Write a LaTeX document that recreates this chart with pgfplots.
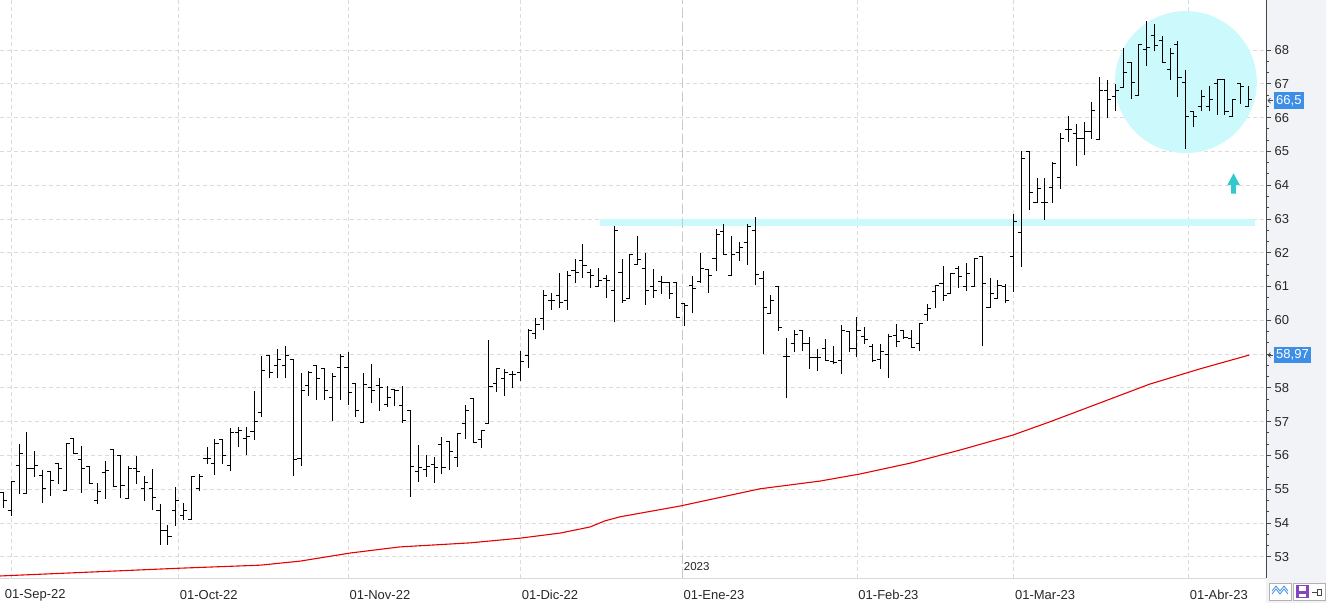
\documentclass[border=0pt]{standalone}
\usepackage{pgfplots}
\pgfplotsset{compat=1.18}
\usepackage{pgfplotstable}
\usepackage{fontspec}
\setmainfont{Liberation Sans}
\definecolor{gridc}{RGB}{218,218,218}
\definecolor{janc}{RGB}{200,200,200}
\definecolor{cyanband}{RGB}{204,250,252}
\definecolor{panel}{RGB}{242,243,247}
\definecolor{lblblue}{RGB}{61,142,230}
\definecolor{arrowc}{RGB}{51,200,204}
\definecolor{axisc}{RGB}{70,70,70}
\definecolor{txt}{RGB}{40,40,40}
\definecolor{maline}{RGB}{230,0,0}
\definecolor{purp}{RGB}{130,70,190}

\pgfdeclareplotmark{openL}{\pgfpathmoveto{\pgfqpoint{-3.6pt}{0pt}}\pgfpathlineto{\pgfqpoint{0.5pt}{0pt}}\pgfusepathqstroke}
\pgfdeclareplotmark{closeR}{\pgfpathmoveto{\pgfqpoint{-0.5pt}{0pt}}\pgfpathlineto{\pgfqpoint{3.6pt}{0pt}}\pgfusepathqstroke}

\pgfplotstableread{
i O H L C
0 54.90 54.92 54.45 54.67
1 54.38 55.22 54.20 55.22
2 55.71 56.34 54.87 56.06
3 54.87 56.68 54.87 55.61
4 55.61 56.13 55.37 55.71
5 55.39 55.56 54.59 55.02
6 55.53 55.53 54.80 55.26
7 55.76 55.76 55.16 55.61
8 54.96 56.36 54.96 56.36
9 56.50 56.50 56.05 56.05
10 55.88 56.28 54.89 55.61
11 55.68 55.68 55.17 55.17
12 54.66 55.18 54.56 54.92
13 55.49 55.83 54.71 55.55
14 56.18 56.18 55.05 55.09
15 55.99 55.99 54.73 55.10
16 54.72 55.69 54.72 55.61
17 55.61 55.97 55.16 55.52
18 55.01 55.40 54.65 55.21
19 55.01 55.61 54.37 54.74
20 54.36 54.57 53.35 53.77
21 53.77 53.93 53.35 53.59
22 54.36 55.05 53.91 54.66
23 54.21 54.58 54.08 54.36
24 54.09 55.37 54.09 55.37
25 55.01 55.46 54.94 55.37
26 55.91 56.26 55.73 55.91
27 55.75 56.48 55.43 56.34
28 56.47 56.47 55.73 56.01
29 55.69 56.81 55.53 56.67
30 56.67 56.83 56.24 56.75
31 56.49 56.84 56.01 56.56
32 56.70 57.92 56.46 57.00
33 57.27 58.95 57.13 58.51
34 58.95 58.95 58.28 58.44
35 58.66 59.15 58.28 58.85
36 58.66 59.25 58.28 58.95
37 58.85 58.85 55.38 55.88
38 55.90 58.44 55.68 57.91
39 58.06 58.49 57.75 58.44
40 58.66 58.66 57.64 58.29
41 58.58 58.58 57.63 57.91
42 57.70 58.44 57.03 58.34
43 58.60 59.00 57.63 58.93
44 58.60 59.07 57.48 57.85
45 58.14 58.14 57.13 57.34
46 56.96 58.44 56.96 58.11
47 58.00 58.71 57.54 57.91
48 58.06 58.30 57.31 58.00
49 57.50 58.06 57.44 57.70
50 57.96 57.96 57.45 57.91
51 57.49 58.06 56.97 57.04
52 57.34 57.34 54.76 55.68
53 55.52 56.31 55.22 55.65
54 55.58 56.01 55.36 55.68
55 55.73 55.95 55.19 55.65
56 56.33 56.54 55.44 55.65
57 56.40 56.40 55.57 56.10
58 55.95 56.65 55.66 56.65
59 56.95 57.50 56.47 57.32
60 57.69 57.69 56.38 56.38
61 56.48 56.74 56.23 56.74
62 56.95 59.42 56.95 58.05
63 58.14 58.58 57.89 58.58
64 58.29 58.55 57.77 58.45
65 58.40 58.50 57.98 58.40
66 58.44 59.10 58.21 58.77
67 58.95 59.75 58.60 59.70
68 59.60 60.06 59.45 59.88
69 60.06 60.90 59.70 60.74
70 60.59 60.80 60.30 60.59
71 60.74 61.41 60.35 60.54
72 60.59 61.47 60.30 61.31
73 61.46 61.81 61.09 61.41
74 61.76 62.26 61.24 61.61
75 61.41 61.53 60.94 61.31
76 61.01 61.55 61.01 61.19
77 61.24 61.34 60.67 61.19
78 60.87 62.80 59.94 62.65
79 61.41 61.81 60.52 60.59
80 60.65 61.96 60.65 61.96
81 61.66 62.50 61.66 61.81
82 61.54 62.00 60.45 60.89
83 61.00 61.51 60.67 60.89
84 61.16 61.31 60.79 61.11
85 61.11 61.11 60.64 60.80
86 61.11 61.11 60.09 60.09
87 60.50 60.50 59.84 60.45
88 61.04 61.31 60.20 60.95
89 61.16 62.00 61.09 61.54
90 61.51 61.51 60.80 61.31
91 61.84 62.70 61.45 62.55
92 62.63 62.85 61.96 61.96
93 61.31 62.48 61.31 61.96
94 62.00 62.31 61.75 62.15
95 62.31 62.85 61.65 62.77
96 62.65 63.07 61.03 61.35
97 61.25 61.46 58.99 60.39
98 60.21 60.74 60.21 60.59
99 61.00 61.00 59.69 59.79
100 58.94 59.46 57.69 58.94
101 59.30 59.71 59.05 59.59
102 59.71 59.71 59.08 59.30
103 59.30 59.50 58.57 58.91
104 58.91 59.15 58.49 58.91
105 59.15 59.45 58.78 58.80
106 58.78 59.24 58.70 58.75
107 58.80 59.86 58.41 59.71
108 59.66 59.66 59.05 59.15
109 59.15 60.09 58.90 59.71
110 59.51 59.81 59.30 59.42
111 59.22 59.30 58.75 58.80
112 58.85 59.30 58.57 59.07
113 59.00 59.59 58.29 59.51
114 59.56 59.89 59.20 59.37
115 59.71 59.71 59.45 59.50
116 59.45 59.71 59.20 59.20
117 59.30 59.92 59.08 59.89
118 60.16 60.47 59.99 60.34
119 60.86 61.04 60.37 61.03
120 61.10 61.60 60.58 60.74
121 60.79 61.39 60.79 61.39
122 61.52 61.60 60.94 61.29
123 61.00 61.68 60.88 61.39
124 61.01 61.84 61.01 61.84
125 61.88 61.88 59.23 61.10
126 60.39 61.26 60.39 60.79
127 60.64 61.18 60.64 61.04
128 61.00 61.08 60.50 60.58
129 61.88 63.14 60.84 62.91
130 62.61 65.00 61.57 64.80
131 65.00 65.00 63.26 63.78
132 63.50 64.21 63.50 63.91
133 63.50 64.20 62.98 63.50
134 63.93 64.69 63.48 64.65
135 64.23 65.53 63.89 65.39
136 65.65 66.05 65.29 65.65
137 65.53 65.80 64.58 65.39
138 65.39 65.87 64.88 65.60
139 65.60 66.47 65.36 66.20
140 65.36 67.20 65.36 66.81
141 66.81 67.11 66.00 66.54
142 66.61 66.99 66.20 66.81
143 66.90 68.06 66.90 67.32
144 67.63 67.63 66.54 67.04
145 66.66 68.15 66.66 68.15
146 68.00 68.86 67.53 68.06
147 68.43 68.77 67.96 68.13
148 68.28 68.40 67.62 67.64
149 67.42 68.06 67.11 67.91
150 68.15 68.28 66.60 67.20
151 67.04 67.42 65.07 66.03
152 66.19 66.19 65.71 66.03
153 66.33 66.82 66.19 66.62
154 66.33 66.92 66.19 66.52
155 67.00 67.12 66.09 67.12
156 67.12 67.12 66.09 66.19
157 66.03 66.52 66.03 66.52
158 67.00 67.00 66.40 66.92
159 66.33 66.92 66.33 66.52
}\ohlc

\pgfplotstableread{
i v
-0.45 52.43
22.5 52.66
32.8 52.75
37.9 52.87
44.3 53.11
50.6 53.29
59.6 53.41
66.0 53.55
71.1 53.70
74.9 53.88
76.8 54.06
78.7 54.18
86.4 54.50
96.6 55.01
104.3 55.24
109.4 55.45
115.8 55.77
122.2 56.16
128.9 56.60
133.6 56.99
140.0 57.55
146.4 58.11
152.8 58.56
159.1 58.97
}\ma

\begin{document}
\begin{tikzpicture}
\useasboundingbox (0,0) rectangle (1326pt,603pt);
\fill[panel] (1266pt,0) rectangle (1326pt,603pt);
\begin{axis}[
  at={(0pt,25pt)}, anchor=south west,
  scale only axis, width=1266pt, height=578pt,
  xmin=-0.447, xmax=161.24, ymin=52.37, ymax=69.48,
  axis x line*=bottom, axis y line*=right,
  x axis line style={gridc, line width=0.8pt},
  y axis line style={axisc, line width=0.8pt},
  clip mode=individual,
  ytick={53,54,...,68},
  yticklabels={53,54,55,56,57,58,,60,61,62,63,64,65,66,67,68},
  minor y tick num=2,
  xtick={1,22.33,44,66,86.67,109,129,151.33},
  xticklabels={\hspace*{-8pt}01-Sep-22,01-Oct-22,01-Nov-22,01-Dic-22,01-Ene-23,01-Feb-23,01-Mar-23,01-Abr-23},
  tick align=outside,
  major tick length=5pt, minor tick length=3pt,
  tick style={axisc, line width=0.8pt},
  xtick style={draw=none},
  grid=major,
  major grid style={gridc, dash pattern=on 4pt off 3pt, line width=0.8pt},
  yticklabel style={font=\fontsize{13}{15}\selectfont, text=txt, anchor=west, xshift=0pt},
  xticklabel style={font=\fontsize{13}{15}\selectfont, text=txt, anchor=west, xshift=-2pt, yshift=-12pt},
  yticklabel pos=right,
]
% highlight circle and resistance band
\fill[cyanband] (axis cs:151.0,67.05) circle[radius=71pt];
\addplot[cyanband, line width=7pt, forget plot] coordinates {(76.2,62.89) (159.8,62.89)};
% January separator
\draw[janc, line width=0.9pt, dash pattern=on 9pt off 5pt] (axis cs:86.67,52.37) -- (axis cs:86.67,69.48);
\node[anchor=west, font=\fontsize{11.5}{13}\selectfont, text=txt, inner sep=1pt] at (axis cs:86.75,52.72) {2023};
% moving average
\addplot[maline, line width=1.1pt, forget plot] table[x=i, y=v] {\ma};
% OHLC bars
\addplot[draw=none, mark=none, forget plot,
  error bars/.cd, y dir=plus, y explicit, error mark=none,
  error bar style={black, line width=1.0pt}]
  table[x=i, y=L, y error expr={\thisrow{H}-\thisrow{L}}] {\ohlc};
\addplot[only marks, mark=openL, mark options={black, line width=1.0pt}, forget plot] table[x=i, y=O] {\ohlc};
\addplot[only marks, mark=closeR, mark options={black, line width=1.0pt}, forget plot] table[x=i, y=C] {\ohlc};
% arrow
\fill[arrowc] (axis cs:157.1,64.35) -- (axis cs:157.9,64.0) -- (axis cs:157.4,64.0) -- (axis cs:157.4,63.75) -- (axis cs:156.8,63.75) -- (axis cs:156.8,64.0) -- (axis cs:156.3,64.0) -- cycle;
% price labels
\node[fill=lblblue, text=white, font=\fontsize{13}{15}\selectfont, inner xsep=2pt, inner ysep=3pt, anchor=west] at ([xshift=8pt]axis cs:161.24,66.5) {66,5};
\node[fill=lblblue, text=white, font=\fontsize{13}{15}\selectfont, inner xsep=2pt, inner ysep=3pt, anchor=west] at ([xshift=8pt]axis cs:161.24,58.97) {58,97};
\draw[axisc, line width=0.6pt] ([xshift=7pt]axis cs:161.24,66.5) -- ([xshift=2pt]axis cs:161.24,66.5);
\draw[axisc, line width=0.6pt] ([xshift=4.5pt,yshift=2.5pt]axis cs:161.24,66.5) -- ([xshift=2pt]axis cs:161.24,66.5) -- ([xshift=4.5pt,yshift=-2.5pt]axis cs:161.24,66.5);
\draw[axisc, line width=0.6pt] ([xshift=7pt]axis cs:161.24,58.97) -- ([xshift=2pt]axis cs:161.24,58.97);
\draw[axisc, line width=0.6pt] ([xshift=4.5pt,yshift=2.5pt]axis cs:161.24,58.97) -- ([xshift=2pt]axis cs:161.24,58.97) -- ([xshift=4.5pt,yshift=-2.5pt]axis cs:161.24,58.97);
\end{axis}
% bottom-right buttons
\draw[gray!60, fill=white, line width=0.6pt] (1269pt,3pt) rectangle (1291pt,20pt);
\draw[lblblue, line width=0.8pt] (1272pt,9pt) -- (1276pt,14pt) -- (1280pt,9pt) -- (1284pt,14pt) -- (1288pt,9pt);
\draw[lblblue, line width=0.8pt] (1272pt,12pt) -- (1276pt,17pt) -- (1280pt,12pt) -- (1284pt,17pt) -- (1288pt,12pt);
\draw[gray!60, fill=white, line width=0.6pt] (1293pt,3pt) rectangle (1325pt,20pt);
\fill[purp] (1296pt,5pt) rectangle (1309pt,18pt);
\fill[white] (1299pt,12pt) rectangle (1306pt,17pt);
\fill[white] (1299pt,6pt) rectangle (1306pt,9pt);
\draw[axisc, line width=0.8pt] (1312pt,11pt) -- (1317pt,11pt);
\draw[axisc, line width=0.8pt] (1317pt,8pt) rectangle (1321pt,14pt);
\end{tikzpicture}
\end{document}
